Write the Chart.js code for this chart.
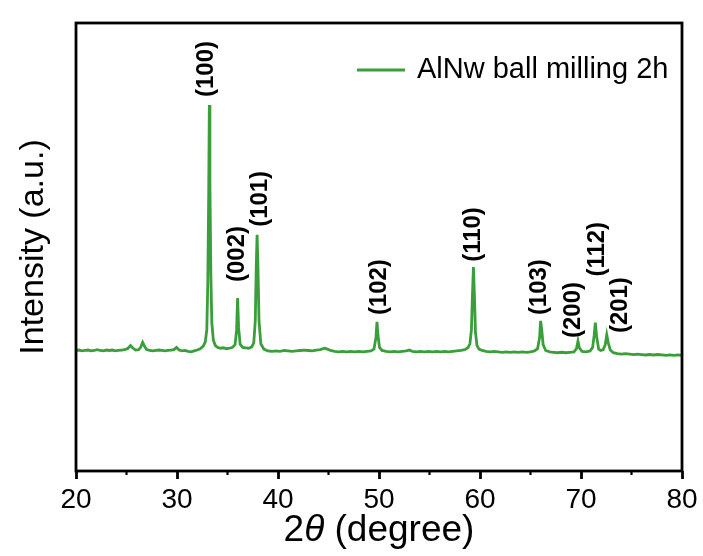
<!DOCTYPE html>
<html>
<head>
<meta charset="utf-8">
<script src="https://cdn.jsdelivr.net/npm/chart.js@4.4.1/dist/chart.umd.min.js"></script>
<style>
  html, body { margin: 0; padding: 0; background: #fff; }
  #wrap { width: 703px; height: 556px; }
</style>
</head>
<body>
<div id="wrap"><canvas id="xrd"></canvas></div>
<script>
// XRD pattern, AlN whiskers after 2h ball milling
var twoTheta = [
  20.0, 20.3, 20.6, 20.9, 21.2, 21.5, 21.8, 22.1, 22.4, 22.7,
  23.0, 23.3, 23.6, 23.9, 24.2, 24.5, 24.8, 25.1, 25.4, 25.6,
  25.9, 26.2, 26.4, 26.6, 26.8, 27.0, 27.3, 27.6, 27.9, 28.2,
  28.5, 28.8, 29.1, 29.4, 29.7, 29.95, 30.2, 30.5, 30.8, 31.1,
  31.4, 31.7, 32.0, 32.3, 32.6, 32.8, 32.95, 33.05, 33.14, 33.2,
  33.26, 33.35, 33.45, 33.6, 33.8, 34.0, 34.3, 34.6, 34.9, 35.2,
  35.5, 35.75, 35.9, 36.0, 36.1, 36.25, 36.5, 36.8, 37.1, 37.4,
  37.6, 37.75, 37.85, 37.93, 38.02, 38.12, 38.3, 38.6, 39.0, 39.4,
  39.8, 40.2, 40.6, 41.0, 41.4, 41.8, 42.2, 42.6, 43.0, 43.4,
  43.8, 44.2, 44.6, 44.9, 45.2, 45.6, 46.0, 46.4, 46.8, 47.2,
  47.6, 48.0, 48.4, 48.8, 49.2, 49.5, 49.7, 49.8, 49.9, 50.05,
  50.3, 50.7, 51.1, 51.5, 51.9, 52.3, 52.7, 53.0, 53.3, 53.7,
  54.1, 54.5, 54.9, 55.3, 55.7, 56.1, 56.5, 56.9, 57.3, 57.7,
  58.1, 58.5, 58.8, 59.0, 59.15, 59.25, 59.35, 59.45, 59.55, 59.7,
  59.9, 60.2, 60.6, 61.0, 61.4, 61.8, 62.2, 62.6, 63.0, 63.4,
  63.8, 64.2, 64.6, 65.0, 65.4, 65.7, 65.9, 66.0, 66.1, 66.25,
  66.5, 66.9, 67.3, 67.7, 68.1, 68.5, 68.9, 69.3, 69.55, 69.7,
  69.85, 70.1, 70.5, 70.9, 71.15, 71.3, 71.42, 71.55, 71.75, 71.95,
  72.2, 72.4, 72.55, 72.7, 72.9, 73.2, 73.6, 74.0, 74.4, 74.8,
  75.2, 75.6, 76.0, 76.4, 76.8, 77.2, 77.6, 78.0, 78.4, 78.8,
  79.2, 79.6, 80.0
];
var intensity = [
  26.9, 27.0, 26.8, 26.9, 27.0, 26.8, 26.9, 27.1, 26.9, 26.8,
  27.0, 26.9, 27.0, 26.8, 26.9, 27.0, 27.1, 27.3, 28.0, 27.5,
  27.0, 27.1, 27.6, 28.7, 27.8, 27.1, 26.9, 26.8, 26.9, 27.0,
  26.9, 26.8, 26.9, 27.0, 27.1, 27.6, 27.0, 26.8, 26.9, 26.7,
  26.6, 26.8, 27.0, 27.3, 27.9, 28.8, 31.5, 42.0, 62.0, 81.7,
  64.0, 44.0, 33.0, 29.2, 28.0, 27.6, 27.4, 27.5, 27.3, 27.4,
  27.6, 28.2, 31.5, 38.6, 32.0, 28.3, 27.6, 27.5, 27.4, 27.7,
  28.6, 33.5, 46.0, 52.7, 45.0, 33.5, 28.4, 27.2, 26.8, 26.7,
  26.8, 26.7, 26.9, 26.8, 26.7, 26.8, 26.9, 27.0, 26.9, 26.8,
  27.0, 27.1, 27.4, 27.2, 26.9, 26.7, 26.6, 26.7, 26.6, 26.7,
  26.6, 26.7, 26.6, 26.7, 26.8, 27.2, 29.8, 33.3, 30.3, 27.6,
  26.9, 26.7, 26.6, 26.7, 26.6, 26.7, 26.8, 27.0, 26.7, 26.6,
  26.7, 26.6, 26.7, 26.6, 26.7, 26.6, 26.7, 26.6, 26.7, 26.8,
  26.9, 27.1, 27.5, 28.4, 31.5, 39.0, 45.5, 39.0, 31.0, 28.0,
  27.2, 26.9, 26.7, 26.6, 26.7, 26.6, 26.5, 26.6, 26.5, 26.6,
  26.5, 26.6, 26.5, 26.6, 26.8, 27.3, 29.8, 33.5, 31.8, 28.2,
  26.9, 26.6, 26.5, 26.4, 26.5, 26.4, 26.5, 26.6, 27.3, 29.0,
  27.4, 26.7, 26.6, 26.8, 27.6, 30.2, 33.1, 30.0, 27.2, 26.9,
  27.1, 28.2, 30.4, 28.6, 27.0, 26.4, 26.2, 26.1, 26.2, 26.1,
  26.0, 26.1, 26.0, 25.9, 26.0, 25.9, 26.0, 25.9, 25.8, 25.9,
  25.8, 25.9, 25.8
];

// Miller indices and where each label sits (degree, intensity at its lower end)
var peakLabels = ["(100)", "(002)", "(101)", "(102)", "(110)", "(103)", "(200)", "(112)", "(201)"];
var labelTheta = [32.9, 36.0, 38.3, 50.1, 59.4, 65.9, 69.3, 71.6, 73.9];
var labelBase = [83.5, 42.2, 54.5, 34.8, 46.7, 34.8, 29.7, 43.4, 30.8];

var xTicks = [20, 30, 40, 50, 60, 70, 80];
var minorTicks = [25, 35, 45, 55, 65, 75];
var seriesName = "AlNw ball milling 2h";

var green = "#3a9e3a";
var font = "'Liberation Sans', Arial, sans-serif";

var points = [];
for (var i = 0; i < twoTheta.length; i++) {
  points.push({x: twoTheta[i], y: intensity[i]});
}

var decor = {
  id: 'decor',
  afterDraw: function(chart) {
    var c = chart.ctx, a = chart.chartArea;
    var xs = chart.scales.x, ys = chart.scales.y;
    c.save();

    // frame
    c.strokeStyle = '#000';
    c.lineWidth = 2.8;
    c.strokeRect(a.left, a.top, a.right - a.left, a.bottom - a.top);

    // minor ticks
    c.lineWidth = 2.2;
    minorTicks.forEach(function(v) {
      var px = xs.getPixelForValue(v);
      c.beginPath();
      c.moveTo(px, a.bottom);
      c.lineTo(px, a.bottom + 4);
      c.stroke();
    });

    // peak labels
    c.fillStyle = '#000';
    c.font = "bold 23px " + font;
    c.textAlign = 'left';
    c.textBaseline = 'middle';
    peakLabels.forEach(function(t, k) {
      c.save();
      c.translate(xs.getPixelForValue(labelTheta[k]), ys.getPixelForValue(labelBase[k]));
      c.rotate(-Math.PI / 2);
      c.scale(1.04, 1);
      c.fillText(t, 0, 0);
      c.restore();
    });

    // legend
    var ly = a.top + 47;
    c.strokeStyle = green;
    c.lineWidth = 3;
    c.beginPath();
    c.moveTo(a.right - 325, ly);
    c.lineTo(a.right - 277, ly);
    c.stroke();
    c.font = "29px " + font;
    c.fillText(seriesName, a.right - 265, ly);

    // x title with italic theta
    var fs = "37px " + font;
    c.font = fs;
    var p1 = "2", p3 = " (degree)";
    var w1 = c.measureText(p1).width, w3 = c.measureText(p3).width;
    c.font = "italic " + fs;
    var w2 = c.measureText("\u03b8").width;
    var tx = (a.left + a.right) / 2 - (w1 + w2 + w3) / 2;
    var ty = 531;
    c.font = fs;
    c.fillText(p1, tx, ty);
    c.font = "italic " + fs;
    c.fillText("\u03b8", tx + w1, ty);
    c.font = fs;
    c.fillText(p3, tx + w1 + w2, ty);

    c.restore();
  }
};

var chart = new Chart(document.getElementById('xrd'), {
  type: 'line',
  data: {
    datasets: [{
      label: seriesName,
      data: points,
      borderColor: green,
      borderWidth: 2.8,
      pointRadius: 0,
      tension: 0,
      fill: false
    }]
  },
  options: {
    responsive: true,
    maintainAspectRatio: false,
    animation: false,
    layout: { padding: { left: 0, right: 21, top: 23, bottom: 0 } },
    plugins: {
      legend: { display: false },
      tooltip: { enabled: false }
    },
    scales: {
      x: {
        type: 'linear',
        min: 20,
        max: 80,
        afterFit: function(s) { s.height = 85; },
        afterBuildTicks: function(s) {
          s.ticks = xTicks.map(function(v) { return {value: v}; });
        },
        border: { display: false },
        grid: {
          drawOnChartArea: false,
          drawTicks: true,
          tickLength: 8,
          tickWidth: 2.8,
          tickColor: '#000'
        },
        ticks: {
          color: '#000',
          padding: 4,
          maxRotation: 0,
          font: { family: font, size: 28 }
        }
      },
      y: {
        min: 0,
        max: 100,
        afterFit: function(s) { s.width = 76; },
        border: { display: false },
        grid: { display: false },
        ticks: { display: false },
        title: {
          display: true,
          text: 'Intensity (a.u.)',
          color: '#000',
          padding: { top: 13, bottom: 0 },
          font: { family: font, size: 34 }
        }
      }
    }
  },
  plugins: [decor]
});
</script>
</body>
</html>
